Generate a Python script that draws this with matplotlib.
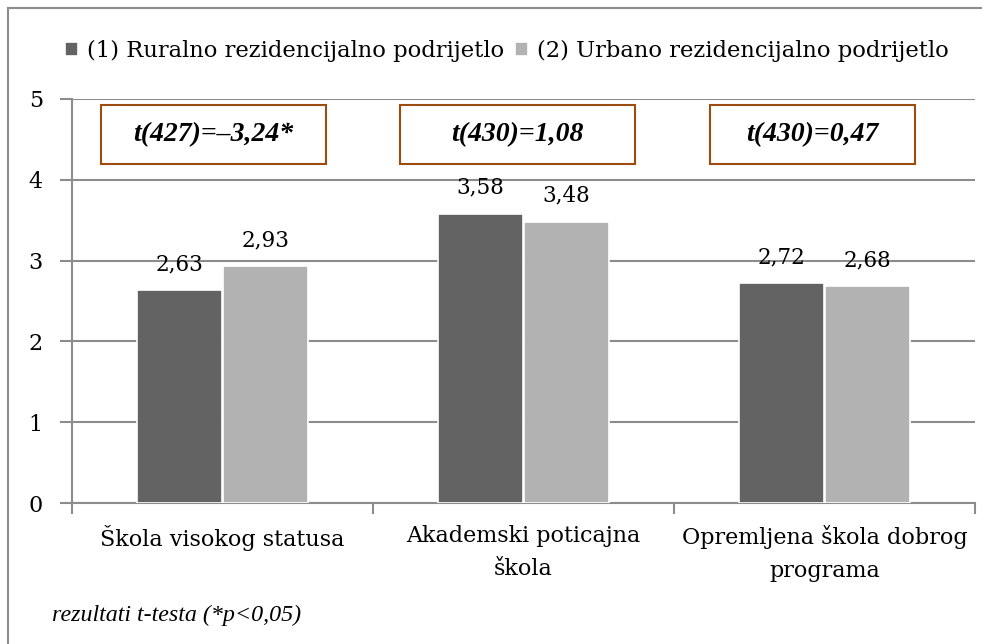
import numpy as np
import matplotlib.pyplot as plt
from matplotlib.patches import Rectangle

# podaci
kategorije = ['Škola visokog statusa', 'Akademski poticajna\nškola', 'Opremljena škola dobrog\nprograma']
ruralno = [2.63, 3.58, 2.72]
urbano = [2.93, 3.48, 2.68]
serije = ['(1) Ruralno rezidencijalno podrijetlo', '(2) Urbano rezidencijalno podrijetlo']
t_testovi = ['t(427)=\u20133,24*', 't(430)=1,08', 't(430)=0,47']

boja_r = '#636363'
boja_u = '#b2b2b2'
siva = '#8c8c8c'
smeda = '#9e4b10'
serif = 'DejaVu Serif'
times = 'Liberation Serif'

fig = plt.figure(figsize=(9.82, 6.44), dpi=100)
ax = fig.add_axes([72/982, 1-503/644, 903/982, 404/644])

x = np.arange(len(kategorije))
w = 0.28
b1 = ax.bar(x - w/2 - 0.003, ruralno, w, color=boja_r, edgecolor='white', linewidth=1.2,
            label=serije[0], zorder=3)
b2 = ax.bar(x + w/2 + 0.003, urbano, w, color=boja_u, edgecolor='white', linewidth=1.2,
            label=serije[1], zorder=3)

for bars, vals in [(b1, ruralno), (b2, urbano)]:
    for r, v in zip(bars, vals):
        ax.annotate(f'{v:.2f}'.replace('.', ','), (r.get_x() + r.get_width()/2, v),
                    xytext=(0, 11), textcoords='offset points', ha='center', va='bottom',
                    fontsize=15.5, family=serif, color='black')

ax.set_xlim(-0.5, 2.5)
ax.set_ylim(0, 5)
ax.set_yticks(range(6))
ax.set_yticklabels([str(i) for i in range(6)], fontsize=16, family=serif)
ax.yaxis.grid(True, color=siva, linewidth=1.5, zorder=0)
ax.set_axisbelow(True)

ax.set_xticks(x)
ax.set_xticklabels(kategorije, fontsize=16, family=serif, linespacing=1.65)
ax.set_xticks([-0.5, 0.5, 1.5, 2.5], minor=True)
ax.tick_params(axis='x', which='major', length=0, pad=16)
ax.tick_params(axis='x', which='minor', length=8, width=1.5, color=siva, direction='out')
ax.tick_params(axis='y', length=9, width=1.5, color=siva, pad=12)

for s in ['top', 'right']:
    ax.spines[s].set_visible(False)
for s in ['left', 'bottom']:
    ax.spines[s].set_color(siva)
    ax.spines[s].set_linewidth(1.5)

# okviri s rezultatima t-testa (pomak centra i širina u jedinicama kategorije)
pomaci = [-0.03, -0.02, -0.04]
sirine = [0.745, 0.78, 0.68]
for i, (txt, dx, sw) in enumerate(zip(t_testovi, pomaci, sirine)):
    cx = x[i] + dx
    ax.add_patch(Rectangle((cx - sw/2, 4.2), sw, 0.72, transform=ax.transData,
                           facecolor='white', edgecolor=smeda, linewidth=1.5, zorder=4))
    ax.text(cx, 4.56, txt, ha='center', va='center', fontsize=20, family=times,
            fontweight='bold', fontstyle='italic', zorder=5)

leg = fig.legend(handles=[b1, b2], labels=serije, loc='center', bbox_to_anchor=(507/982, 1-51/644),
                 ncol=2, frameon=False, handlelength=0.6, handleheight=0.6, handletextpad=0.4,
                 columnspacing=0.45, prop={'family': serif, 'size': 16.3})

fig.text(52/982, 1-615/644, 'rezultati t-testa (*p<0,05)', fontsize=17.3, family=times,
         fontstyle='italic', va='center', ha='left')

# vanjski okvir grafikona
fig.patches.append(Rectangle((8/982, -0.1), 1.2, 1.1 - 8/644, transform=fig.transFigure,
                             facecolor='none', edgecolor=siva, linewidth=1.5, zorder=0))

fig.savefig('out.png', dpi=100)
